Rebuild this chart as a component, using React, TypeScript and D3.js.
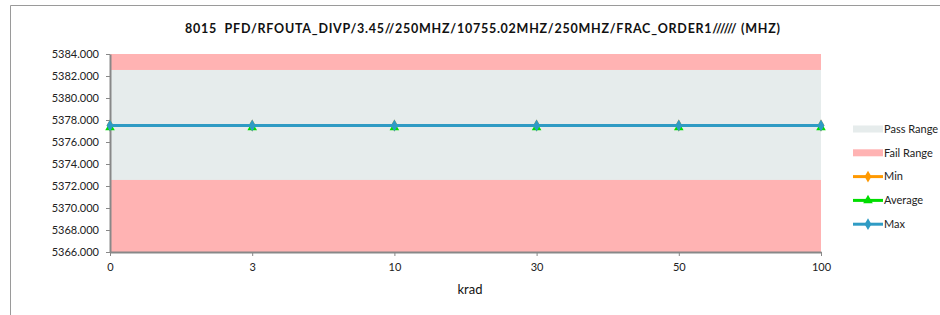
import React, { useEffect, useRef } from "react";
import * as d3 from "d3";

const categories = ["0", "3", "10", "30", "50", "100"];
const minValues = [5377.5, 5377.5, 5377.5, 5377.5, 5377.5, 5377.5];
const avgValues = [5377.5, 5377.5, 5377.5, 5377.5, 5377.5, 5377.5];
const maxValues = [5377.5, 5377.5, 5377.5, 5377.5, 5377.5, 5377.5];
const yTicks = [5366, 5368, 5370, 5372, 5374, 5376, 5378, 5380, 5382, 5384];
const passLow = 5372.55;
const passHigh = 5382.55;
const title = "8015  PFD/RFOUTA_DIVP/3.45//250MHZ/10755.02MHZ/250MHZ/FRAC_ORDER1////// (MHZ)";

const series = [
  { name: "Min", values: minValues, color: "#ff9900", marker: "diamond" },
  { name: "Average", values: avgValues, color: "#00dd00", marker: "triangle" },
  { name: "Max", values: maxValues, color: "#2f9bc4", marker: "diamond" },
];

const FONT = "Lato, 'Open Sans', sans-serif";

const App = () => {
  const ref = useRef<SVGSVGElement>(null);

  useEffect(() => {
    drawChart();
    //eslint-disable-next-line
  }, []);

  function drawChart() {
    const svg = d3.select(ref.current);
    svg.selectAll("*").remove();

    const left = 110, right = 821, top = 54, bottom = 252;

    // outer frame
    svg.append("path")
      .attr("d", "M10.5,316 L10.5,5.5 L940,5.5")
      .attr("fill", "none")
      .attr("stroke", "#9a9a9a")
      .attr("stroke-width", 1);

    svg.append("text")
      .attr("x", 185)
      .attr("y", 33)
      .attr("font-family", FONT)
      .attr("font-weight", "bold")
      .attr("font-size", 12.5)
      .attr("fill", "#111")
      .attr("textLength", 595)
      .attr("lengthAdjust", "spacing")
      .style("white-space", "pre")
      .text(title);

    const x = d3.scalePoint().domain(categories).range([left, right]);
    const y = d3.scaleLinear().domain([5366, 5384]).range([bottom, top]);

    // fail / pass bands
    svg.append("rect").attr("x", left).attr("width", right - left)
      .attr("y", y(5384)).attr("height", y(5366) - y(5384)).attr("fill", "#ffb3b3");
    svg.append("rect").attr("x", left).attr("width", right - left)
      .attr("y", y(passHigh)).attr("height", y(passLow) - y(passHigh)).attr("fill", "#e6ecec");

    // y axis
    const yAxis = svg.append("g")
      .attr("transform", `translate(${left},0)`)
      .call(d3.axisLeft(y).tickValues(yTicks).tickFormat(d3.format(".3f")).tickSize(4).tickSizeOuter(0));
    yAxis.select(".domain").attr("stroke", "#888").attr("stroke-width", 2);
    yAxis.selectAll(".tick line").attr("stroke", "#888");
    yAxis.selectAll("text").attr("font-family", FONT).attr("font-size", 11).attr("fill", "#222").attr("dx", -4);

    // x axis
    const xAxis = svg.append("g")
      .attr("transform", `translate(0,${bottom})`)
      .call(d3.axisBottom(x).tickSize(4).tickSizeOuter(0));
    xAxis.select(".domain").attr("stroke", "#888").attr("stroke-width", 2);
    xAxis.selectAll(".tick line").attr("stroke", "#888");
    xAxis.selectAll("text").attr("font-family", FONT).attr("font-size", 11).attr("fill", "#222").attr("dy", "1.1em");

    svg.append("text")
      .attr("x", 470).attr("y", 294)
      .attr("text-anchor", "middle")
      .attr("font-family", FONT).attr("font-size", 13).attr("fill", "#111")
      .text("krad");

    const line = d3.line<number>()
      .x((_, i) => x(categories[i]) as number)
      .y((d) => y(d));

    const diamond = d3.symbol().type(d3.symbolDiamond).size(40);
    const triangle = d3.symbol().type(d3.symbolTriangle).size(40);

    series.forEach((s) => {
      svg.append("path")
        .datum(s.values)
        .attr("d", line)
        .attr("fill", "none")
        .attr("stroke", s.color)
        .attr("stroke-width", 3);
      svg.append("g")
        .selectAll("path")
        .data(s.values)
        .enter()
        .append("path")
        .attr("transform", (d, i) => `translate(${x(categories[i])},${y(d) + (s.marker === "triangle" ? 2 : 0)})`)
        .attr("d", s.marker === "triangle" ? triangle() : diamond())
        .attr("fill", s.color);
    });

    // legend
    const lg = svg.append("g").attr("font-family", FONT).attr("font-size", 11).attr("fill", "#222");
    const lx = 853, lw = 30;
    const rows = [
      { name: "Pass Range", kind: "rect", color: "#e6ecec" },
      { name: "Fail Range", kind: "rect", color: "#ffb3b3" },
      ...series.map((s) => ({ name: s.name, kind: s.marker, color: s.color })),
    ];
    rows.forEach((r, i) => {
      const cy = 129 + i * 23.8;
      if (r.kind === "rect") {
        lg.append("rect").attr("x", lx).attr("y", cy - 3.5).attr("width", lw).attr("height", 7).attr("fill", r.color);
      } else {
        lg.append("line").attr("x1", lx).attr("x2", lx + lw).attr("y1", cy).attr("y2", cy)
          .attr("stroke", r.color).attr("stroke-width", 3);
        lg.append("path")
          .attr("transform", `translate(${lx + lw / 2},${cy})`)
          .attr("d", r.kind === "triangle" ? triangle() : diamond())
          .attr("fill", r.color);
      }
      lg.append("text").attr("x", lx + lw + 1).attr("y", cy).attr("dy", "0.35em").text(r.name);
    });
  }

  return (
    <div style={{ position: "absolute", left: 0, top: 0 }}>
      <svg ref={ref} width={940} height={315} style={{ display: "block", background: "#fff" }} />
    </div>
  );
};

export default App;
